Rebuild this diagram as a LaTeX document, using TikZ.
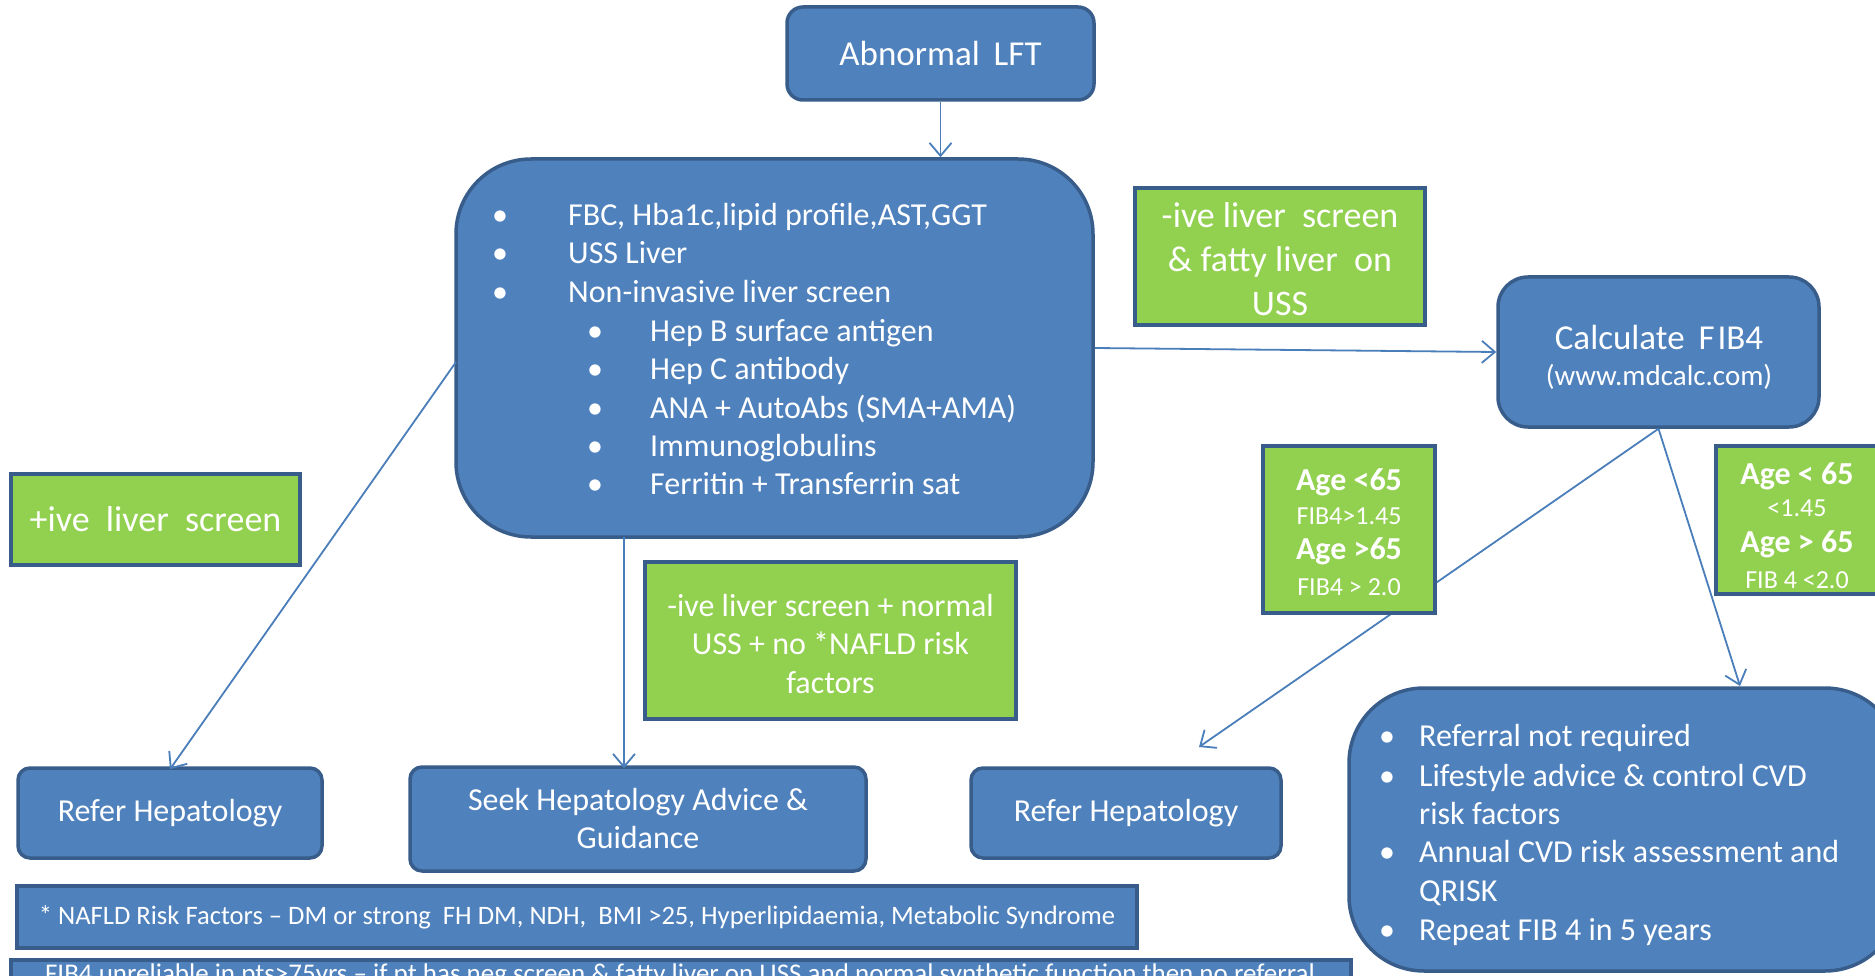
\documentclass[tikz,border=0pt]{standalone}
\usepackage{fontspec}
\setmainfont{Carlito}
\usetikzlibrary{arrows.meta,calc}
\definecolor{boxblue}{HTML}{4F81BD}
\definecolor{edgeblue}{HTML}{385D8A}
\definecolor{lgreen}{HTML}{92D050}
\definecolor{linkblue}{HTML}{4A7EBB}
\newcommand\fsz[2]{\fontsize{#1}{#2}\selectfont}
\tikzset{
  bluebox/.style={draw=edgeblue, fill=boxblue, line width=3.5pt, text=white, rounded corners=#1, inner sep=0pt, align=center},
  bluebox/.default=14pt,
  greenbox/.style={draw=edgeblue, fill=lgreen, line width=4.5pt, text=white, inner sep=0pt, align=center},
  sqbox/.style={draw=edgeblue, fill=boxblue, line width=3.5pt, text=white, inner sep=0pt},
  txt/.style={text=white, inner sep=0pt, anchor=mid west},
  bul/.style={text=white, inner sep=0pt, anchor=mid},
  arr/.style={draw=linkblue, line width=1.8pt, -{Straight Barb[length=13pt,width=22pt,line width=1.8pt]}},
}
\begin{document}
\begin{tikzpicture}[x=1pt,y=-1pt]
\useasboundingbox (0,0) rectangle (1875,976);
\fill[white] (0,0) rectangle (1875,976);
\clip (0,0) rectangle (1875,976);

% blue boxes
\node[bluebox=16pt, minimum width=307pt, minimum height=93pt, font=\fsz{35}{42}] (lft) at (940.5,53.5) {Abnormal\hspace{.4em}LFT};
\node[bluebox=75pt, minimum width=637pt, minimum height=378pt] (main) at (774.5,348) {};
\node[bluebox=30pt, minimum width=321pt, minimum height=150pt] (calc) at (1658.5,352) {};
\node[text=white, inner sep=0pt, font=\fsz{35}{42}] (calct) at (1659,337) {Calculate\hspace{.4em}F\hspace{.08em}IB4};
\node[text=white, inner sep=0pt, font=\fsz{29}{35}] (calcu) at (1659,377) {(www.mdcalc.com)};
\node[bluebox=12pt, minimum width=304pt, minimum height=90pt, font=\fsz{32}{39}] (refer1) at (170,813) {Refer Hepatology};
\node[bluebox=12pt, minimum width=456pt, minimum height=104pt, font=\fsz{32}{38}] (seek) at (638,819) {Seek Hepatology Advice \&\\Guidance};
\node[bluebox=12pt, minimum width=310pt, minimum height=90pt, font=\fsz{32}{39}] (refer2) at (1126,813) {Refer Hepatology};
\node[bluebox=75pt, minimum width=551pt, minimum height=283pt] (final) at (1624.5,829.5) {};
\node[sqbox, minimum width=1120pt, minimum height=62pt, font=\fsz{26.6}{31}] (nafld) at (577,917) {* NAFLD Risk Factors -- DM or strong\ \ FH DM, NDH,\ \ BMI >25, Hyperlipidaemia, Metabolic Syndrome};
\node[sqbox, minimum width=1340pt, minimum height=54pt] (note) at (681,987) {};
\node[text=white, inner sep=0pt, font=\fsz{27}{31}, anchor=mid] (notet) at (680,980) {FIB4 unreliable in pts>75yrs -- if pt has neg screen \& fatty liver on USS and normal synthetic function then no referral};

% main box items
\begin{scope}[font=\fsz{32}{38}]
\node[bul] (mb1) at (500,223) {•};
\node[txt] (m1) at (568,223) {FBC, Hba1c,lipid profile,AST,GGT};
\node[bul] (mb2) at (500,261.5) {•};
\node[txt] (m2) at (568,261.5) {USS Liver};
\node[bul] (mb3) at (500,300) {•};
\node[txt] (m3) at (568,300) {Non-invasive liver screen};
\node[bul] (mb4) at (595,339) {•};
\node[txt] (m4) at (650,339) {Hep B surface antigen};
\node[bul] (mb5) at (595,377.5) {•};
\node[txt] (m5) at (650,377.5) {Hep C antibody};
\node[bul] (mb6) at (595,416) {•};
\node[txt] (m6) at (650,416) {ANA + AutoAbs (SMA+AMA)};
\node[bul] (mb7) at (595,454) {•};
\node[txt] (m7) at (650,454) {Immunoglobulins};
\node[bul] (mb8) at (595,492) {•};
\node[txt] (m8) at (650,492) {Ferritin + Transferrin sat};
% final box items
\node[bul] (fb1) at (1387,744.6) {•};
\node[txt] (f1) at (1419,744.6) {Referral not required};
\node[bul] (fb2) at (1387,784) {•};
\node[txt] (f2) at (1419,784) {Lifestyle advice \& control CVD};
\node[txt] (f3) at (1419,822) {risk factors};
\node[bul] (fb4) at (1387,860.6) {•};
\node[txt] (f4) at (1419,860.6) {Annual CVD risk assessment and};
\node[txt] (f5) at (1419,899) {QRISK};
\node[bul] (fb6) at (1387,938) {•};
\node[txt] (f6) at (1419,938) {Repeat FIB 4 in 5 years};
\end{scope}

% connectors
\coordinate (s1) at (624,537);
\coordinate (t1) at (1199,747);
\coordinate (t2) at (1740,686);
\draw[arr] (lft.south) -- (lft.south |- main.north);
\draw[arr] (main.east) -- (calc.west);
\draw[arr] (456,362) -- ([yshift=-3pt]refer1.north);
\draw[arr] (s1) -- ([yshift=-3pt]s1 |- seek.north);
\draw[arr] (calc.south) -- (t1);
\draw[arr] (calc.south) -- (t2);

% green boxes
\node[greenbox, minimum width=290pt, minimum height=137pt, font=\fsz{36}{44}] (neg1) at (1280,256.5) {};
\node[text=white, inner sep=0pt, align=center, font=\fsz{36}{44}] (neg1t) at (1280,259.5) {-ive liver\ \ screen\\\&\ fatty liver\ \ on\\USS};
\node[greenbox, minimum width=289pt, minimum height=91pt, font=\fsz{36}{44}] (pos) at (155.5,519.5) {+ive\ \ liver\ \ screen};
\node[greenbox, minimum width=371pt, minimum height=157pt] (neg2) at (830.5,640.5) {};
\node[text=white, inner sep=0pt, align=center, font=\fsz{32}{38.5}] (neg2t) at (830.5,644) {-ive liver screen + normal\\USS + no *NAFLD risk\\factors};
\node[greenbox, minimum width=172pt, minimum height=167pt] (ageL) at (1349,529.5) {};
\node[bul, font=\fsz{32}{38}\bfseries] (al1) at (1349,488) {Age <65};
\node[bul, font=\fsz{26}{31}] (al2) at (1349,522) {FIB4>1.45};
\node[bul, font=\fsz{32}{38}\bfseries] (al3) at (1349,557) {Age >65};
\node[bul, font=\fsz{26}{31}] (al4) at (1349,593) {FIB4 > 2.0};
\node[greenbox, minimum width=170pt, minimum height=148pt] (ageR) at (1801,520) {};
\node[bul, font=\fsz{32}{38}\bfseries] (ar1) at (1797,482) {Age < 65};
\node[bul, font=\fsz{26}{31}] (ar2) at (1797,514) {<1.45};
\node[bul, font=\fsz{32}{38}\bfseries] (ar3) at (1797,550) {Age > 65};
\node[bul, font=\fsz{26}{31}] (ar4) at (1797,586) {FIB 4 <2.0};
\end{tikzpicture}
\end{document}
